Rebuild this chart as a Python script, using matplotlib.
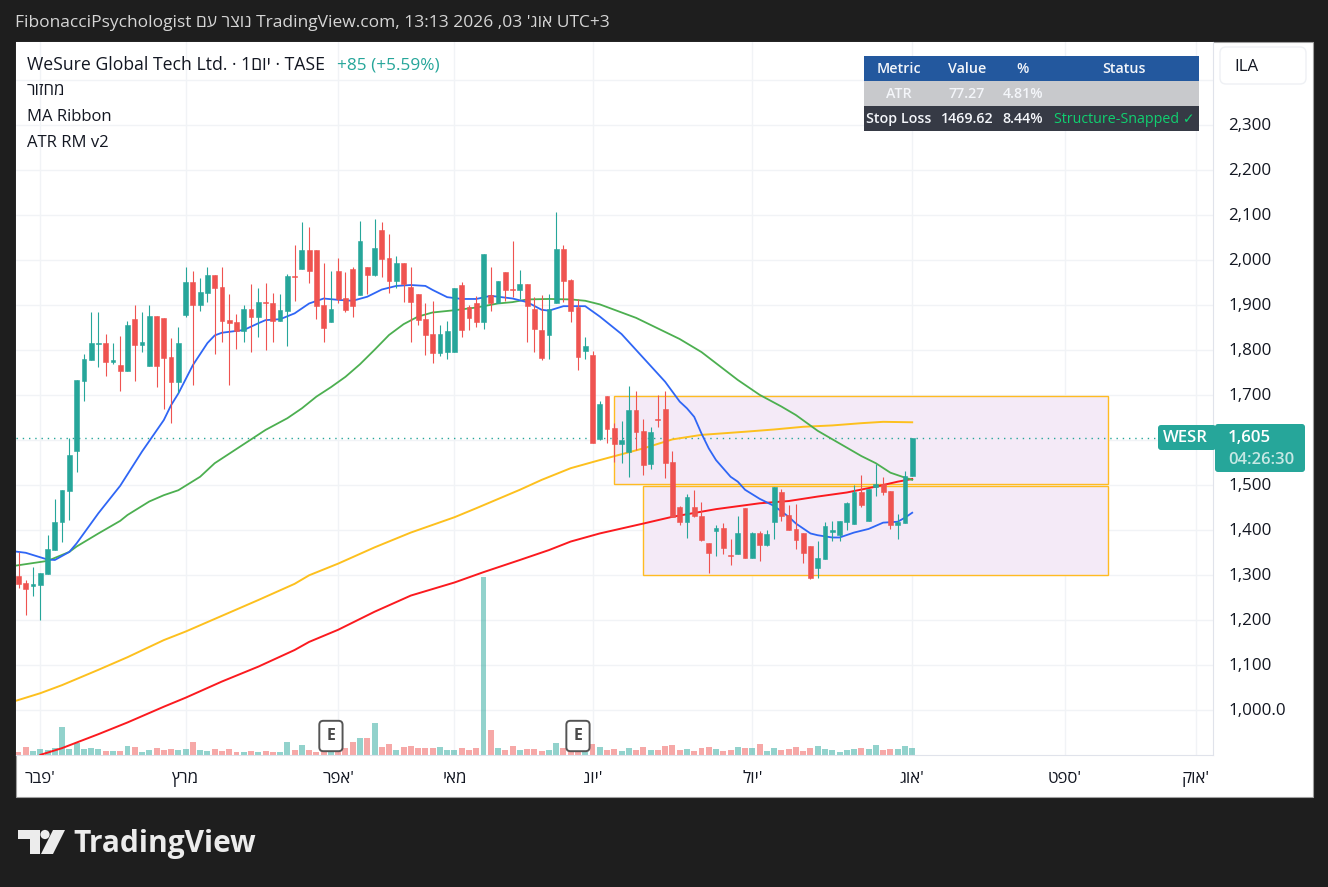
import matplotlib
matplotlib.use('Agg')
import matplotlib.pyplot as plt
from matplotlib.patches import Rectangle, FancyBboxPatch, Polygon, Circle
from matplotlib.transforms import IdentityTransform, ScaledTranslation

plt.rcParams['font.family'] = ['Open Sans', 'Liberation Sans', 'DejaVu Sans']

W, H = 1328, 887

# daily bars, index 0 = first bar of Feb
first_bar = -3
opens = [1298, 1283, 1277, 1278, 1303, 1356, 1418, 1487, 1576, 1732, 1778, 1815, 1816, 1774, 1767, 1754, 1870, 1812, 1765, 1876,
         1872, 1785, 1730, 1878, 1952, 1901, 1927, 1967, 1941, 1867, 1863, 1843, 1892, 1874, 1907, 1905, 1865, 1887, 1965, 1981,
         2023, 2023, 1901, 1863, 1976, 1916, 1981, 1923, 1985, 1967, 2067, 2005, 1954, 1994, 1941, 1925, 1870, 1836, 1794, 1796,
         1796, 1945, 1896, 1905, 1863, 1923, 1905, 1974, 1937, 1934, 1947, 1892, 1845, 1834, 1905, 2025, 1956, 1896, 1798, 1790,
         1603, 1698, 1627, 1592, 1574, 1667, 1621, 1547, 1648, 1670, 1552, 1452, 1418, 1452, 1432, 1372, 1398, 1405, 1346, 1347,
         1450, 1338, 1394, 1367, 1418, 1485, 1434, 1403, 1394, 1365, 1316, 1336, 1396, 1390, 1418, 1414, 1485, 1421, 1496, 1503,
         1487, 1412, 1416, 1520]
highs = [1351, 1289, 1319, 1305, 1389, 1469, 1489, 1606, 1734, 1792, 1885, 1885, 1836, 1816, 1832, 1865, 1901, 1885, 1901, 1876,
         1872, 1827, 1852, 1985, 1976, 1961, 1985, 1967, 1985, 1925, 1881, 1901, 1947, 1938, 1950, 1927, 1925, 1970, 2034, 2085,
         2074, 2023, 1994, 1976, 2005, 1974, 1985, 2087, 1985, 2092, 2085, 2058, 2010, 1994, 1985, 1925, 1905, 1910, 1856, 1865,
         1938, 1952, 1901, 1921, 2014, 1985, 1954, 1974, 2043, 1978, 1947, 1918, 1923, 1925, 2107, 2034, 1958, 1915, 1830, 1798,
         1687, 1698, 1638, 1643, 1721, 1710, 1647, 1630, 1701, 1710, 1576, 1454, 1481, 1490, 1463, 1372, 1412, 1416, 1381, 1432,
         1450, 1396, 1398, 1401, 1496, 1492, 1456, 1458, 1394, 1365, 1376, 1418, 1421, 1421, 1463, 1501, 1523, 1492, 1547, 1518,
         1487, 1436, 1532, 1605]
lows = [1272, 1212, 1254, 1200, 1303, 1356, 1374, 1423, 1529, 1687, 1778, 1763, 1743, 1770, 1710, 1754, 1732, 1796, 1765, 1718,
        1670, 1638, 1704, 1874, 1723, 1887, 1907, 1792, 1818, 1723, 1803, 1818, 1796, 1830, 1801, 1818, 1865, 1810, 1910, 1981,
        1950, 1870, 1818, 1863, 1905, 1885, 1874, 1923, 1925, 1965, 1963, 1927, 1938, 1907, 1818, 1856, 1790, 1772, 1787, 1781,
        1796, 1830, 1845, 1852, 1847, 1887, 1905, 1910, 1918, 1914, 1818, 1796, 1778, 1781, 1905, 1907, 1863, 1756, 1781, 1594,
        1601, 1594, 1552, 1550, 1518, 1578, 1523, 1536, 1630, 1516, 1430, 1412, 1383, 1430, 1376, 1305, 1343, 1347, 1323, 1347,
        1338, 1338, 1332, 1365, 1381, 1421, 1401, 1358, 1327, 1292, 1294, 1336, 1376, 1376, 1401, 1414, 1452, 1421, 1476, 1478,
        1403, 1381, 1416, 1520]
closes = [1281, 1270, 1281, 1305, 1358, 1418, 1489, 1567, 1734, 1781, 1816, 1817, 1774, 1778, 1754, 1856, 1812, 1818, 1876, 1765,
          1783, 1730, 1816, 1952, 1901, 1930, 1967, 1938, 1865, 1861, 1843, 1892, 1874, 1907, 1905, 1865, 1890, 1965, 1963, 2023,
          1976, 1898, 1850, 1892, 1914, 1890, 1898, 2043, 1967, 2027, 2003, 1954, 1994, 1947, 1907, 1867, 1834, 1794, 1836, 1843,
          1938, 1845, 1872, 1863, 2014, 1905, 1954, 1934, 1934, 1947, 1898, 1847, 1783, 1892, 2025, 1954, 1887, 1785, 1810, 1594,
          1681, 1625, 1592, 1601, 1667, 1618, 1545, 1618, 1646, 1550, 1430, 1418, 1474, 1432, 1378, 1350, 1405, 1361, 1343, 1394,
          1338, 1394, 1367, 1392, 1496, 1432, 1401, 1378, 1350, 1294, 1338, 1410, 1401, 1421, 1461, 1485, 1456, 1492, 1503, 1485,
          1412, 1418, 1521, 1605]
volumes = [10, 24, 12, 18, 15, 21, 84, 18, 35, 18, 21, 18, 12, 12, 12, 27, 24, 9, 15, 21,
           15, 18, 15, 18, 39, 15, 12, 18, 12, 18, 9, 9, 12, 9, 12, 9, 9, 39, 15, 30,
           15, 9, 12, 10, 12, 20, 39, 51, 51, 96, 24, 33, 15, 24, 27, 21, 21, 21, 24, 15,
           15, 21, 15, 21, 534, 75, 21, 15, 27, 15, 18, 18, 12, 15, 36, 21, 12, 10, 10, 33,
           24, 15, 18, 12, 21, 15, 24, 15, 15, 27, 30, 15, 18, 12, 21, 24, 18, 12, 15, 24,
           21, 21, 33, 12, 21, 15, 18, 24, 12, 21, 27, 18, 15, 9, 15, 18, 21, 18, 30, 15,
           18, 18, 27, 21]

blue_idx = [-4, -2, 1, 2, 4, 5, 8, 11, 14, 17, 18, 19, 21, 23, 24, 25, 27, 28, 30, 31, 33, 35, 36, 37, 39, 41, 43, 45, 47, 49, 51, 53, 54,
            56, 58, 60, 62, 65, 67, 69, 70, 72, 75, 77, 80, 83, 86, 88, 89, 90, 91, 92, 93, 95, 96, 97, 99, 101, 103, 104, 106, 107, 109,
            110, 112, 114, 116, 118, 119, 120]
blue_ma = [1354, 1350, 1335, 1334, 1352, 1371, 1438, 1499, 1575, 1645, 1678, 1704, 1767, 1816, 1833, 1839, 1843, 1845, 1860, 1867, 1869, 1882, 1893, 1904, 1915, 1912, 1910, 1919, 1935, 1943, 1945, 1943, 1934,
           1918, 1914, 1914, 1921, 1915, 1907, 1890, 1888, 1898, 1898, 1875, 1836, 1783, 1730, 1686, 1671, 1652, 1615, 1582, 1556, 1519, 1508, 1490, 1470, 1454, 1430, 1415, 1393, 1389, 1384,
           1384, 1395, 1403, 1417, 1419, 1428, 1439]
green_idx = [-4, 1, 4, 5, 8, 11, 12, 15, 17, 19, 22, 24, 31, 34, 36, 38, 40, 42, 44, 46, 48, 50, 52, 54, 57, 60, 63, 65, 67, 70, 73, 75, 77, 80,
             82, 88, 91, 96, 99, 102, 104, 107, 110, 113, 115, 117, 119, 120]
green_ma = [1320, 1332, 1352, 1364, 1393, 1421, 1434, 1464, 1478, 1489, 1519, 1549, 1623, 1649, 1671, 1697, 1718, 1741, 1769, 1801, 1834, 1858, 1875, 1884, 1889, 1895, 1904, 1907, 1913, 1914, 1913, 1910, 1902, 1884,
            1872, 1825, 1796, 1734, 1701, 1675, 1656, 1621, 1593, 1565, 1549, 1528, 1517, 1512]
yellow_idx = [-4, 0, 3, 8, 12, 17, 20, 25, 30, 35, 37, 41, 46, 51, 57, 60, 66, 69, 73, 77, 83, 87, 91, 97, 101, 105, 109, 113, 116, 120]
yellow_ma = [1018, 1038, 1056, 1090, 1118, 1156, 1175, 1210, 1245, 1281, 1300, 1326, 1362, 1395, 1429, 1449, 1490, 1512, 1538, 1556, 1582, 1602, 1612, 1619, 1624, 1630, 1633, 1638, 1641, 1640]
red_idx = [0, 3, 8, 12, 17, 20, 25, 30, 35, 37, 41, 46, 51, 57, 61, 66, 70, 73, 77, 83, 87, 93, 99, 103, 107, 111, 115, 118, 120]
red_ma = [901, 916, 947, 973, 1008, 1028, 1064, 1097, 1134, 1152, 1179, 1219, 1255, 1284, 1307, 1334, 1356, 1375, 1393, 1415, 1430, 1447, 1460, 1465, 1475, 1484, 1497, 1508, 1514]

# risk zones: left bar, right bar, low, high
zone_left = [79, 83]
zone_right = [147, 147]
zone_low = [1502, 1301]
zone_high = [1698, 1498]

last_price = 1605
price_ticks = list(range(1000, 2500, 100))
# 1,600 and 2,400 sit behind the price tag and the currency box
price_labels = ['1,000.0', '1,100', '1,200', '1,300', '1,400', '1,500', '', '1,700', '1,800', '1,900',
                '2,000', '2,100', '2,200', '2,300', '']
month_ticks = [0, 20, 41, 57, 76, 98, 120, 141, 159]
months = ["פבר'", 'מרץ', "אפר'", 'מאי', "יונ'", "יול'", "אוג'", "ספט'", "אוק'"]
earnings_bars = [40, 74]

table_rows = [['Metric', 'Value', '%', 'Status'],
              ['ATR', '77.27', '4.81%', ''],
              ['Stop Loss', '1469.62', '8.44%', 'Structure-Snapped ✓']]

UP = '#26a69a'
DOWN = '#ef5350'
TEXT = '#131722'


def rtl(s):
    # matplotlib has no bidi, hebrew has to go in visual order
    return s[::-1]


def month_label(s):
    # a trailing geresh stays on the right in the axis labels
    if s.endswith("'"):
        return rtl(s[:-1]) + "'"
    return rtl(s)


# the +0.01 stops 8.87*100 rounding down to 886 rows
fig = plt.figure(figsize=(W / 100, (H + 0.01) / 100), dpi=100, facecolor='#1e1e1e')


def box(x0, y0, x1, y1, color, edge='none', lw=0, z=5, rounding=0):
    if rounding:
        p = FancyBboxPatch((x0, H - y1), x1 - x0, y1 - y0, boxstyle='round,pad=0,rounding_size=%g' % rounding,
                           fc=color, ec=edge, lw=lw, zorder=z, transform=IdentityTransform())
    else:
        p = Rectangle((x0, H - y1), x1 - x0, y1 - y0, fc=color, ec=edge, lw=lw, zorder=z, transform=IdentityTransform())
    fig.add_artist(p)


def label(x, y, s, size=11, color=TEXT, ha='left', z=6, **kw):
    fig.text(x, H - y, s, fontsize=size, color=color, ha=ha, va='center', zorder=z,
             transform=IdentityTransform(), **kw)


# white chart card
box(15.5, 41.5, 1312.5, 796.5, 'white', edge='#a0a0a0', lw=0.8, z=-1)

ax = fig.add_axes([16 / W, 1 - 755 / H, 1197 / W, 713 / H])
ax.set_xlim(-3.345, 161.4)
ax.set_ylim(900.7, 2485)
ax.set_axisbelow(True)
ax.grid(True, color='#f1f3f6', lw=1)

for side in ['top', 'left']:
    ax.spines[side].set_visible(False)
for side in ['right', 'bottom']:
    ax.spines[side].set_color('#e0e3eb')

ax.yaxis.tick_right()
ax.set_yticks(price_ticks)
ax.set_yticklabels(price_labels, fontsize=12.2, color=TEXT)
ax.tick_params(axis='y', length=0, pad=11)
ax.set_xticks(month_ticks)
ax.set_xticklabels([month_label(m) for m in months], fontsize=12.2, color=TEXT)
ax.tick_params(axis='x', length=0, pad=11.5)

# tick labels sit a pixel above the grid lines in the original
nudge = ScaledTranslation(0, 1 / 100, fig.dpi_scale_trans)
for t in ax.get_yticklabels():
    t.set_transform(t.get_transform() + nudge)

xs = [first_bar + i for i in range(len(opens))]
colors = [UP if c >= o else DOWN for o, c in zip(opens, closes)]

for l, r, lo, hi in zip(zone_left, zone_right, zone_low, zone_high):
    ax.add_patch(Rectangle((l, lo), r - l, hi - lo, fc='#f4eaf7', ec='#ffbb22', lw=1.0, zorder=1))

# volume sits on the pane floor, 1 unit = a third of a pixel
ax.bar(xs, [v / (713 * 3) for v in volumes], width=0.82, color=colors, alpha=0.5, linewidth=0,
       transform=ax.get_xaxis_transform(), zorder=1.5)

ax.axhline(last_price, color=UP, lw=1, ls=(0, (1, 3.5)), zorder=2)

ax.plot(red_idx, red_ma, color='#fb1a1f', lw=1.4, zorder=3)
ax.plot(yellow_idx, yellow_ma, color='#fdc01e', lw=1.4, zorder=3)
ax.plot(green_idx, green_ma, color='#4caf50', lw=1.3, zorder=3)
ax.plot(blue_idx, blue_ma, color='#2f66f5', lw=1.3, zorder=3)

ax.vlines(xs, lows, highs, colors=colors, lw=0.8, zorder=4)
ax.bar(xs, [abs(c - o) for o, c in zip(opens, closes)], bottom=[min(o, c) for o, c in zip(opens, closes)],
       width=0.66, color=colors, edgecolor=colors, linewidth=0.4, zorder=4.5)

for b in earnings_bars:
    ax.text(b, 19 / 713, 'E', transform=ax.get_xaxis_transform(), ha='center', va='center', fontsize=11.5,
            color='#4a4a4a', fontweight='bold', zorder=6,
            bbox=dict(boxstyle='round,pad=0.45,rounding_size=0.25', fc='white', ec='#555555', lw=1.4))

# header strip
label(15, 23, 'FibonacciPsychologist ' + rtl('נוצר עם') + ' TradingView.com, 13:13 2026 ,03 ' + rtl("אוג'") + ' UTC+3',
      size=12.5, color='#d6d6d6')

# legend block
label(27, 65, 'WeSure Global Tech Ltd. · 1' + rtl('יום') + ' · TASE', size=12.7)
label(337, 65, '+85 (+5.59%)', size=12.4, color=UP)
label(27, 91, rtl('מחזור'), size=12.2)
label(27, 117, 'MA Ribbon', size=12)
label(27, 143, 'ATR RM v2', size=12)

# stop loss table
row_y = [56, 81, 106, 131]
row_bg = ['#23589e', '#c8c9cc', '#363a45']
row_fg = ['#f4f6fa', '#f4f6fa', '#f4f6fa']
col_x = [899, 967, 1023, 1124]
for r, row in enumerate(table_rows):
    box(864, row_y[r], 1199, row_y[r + 1], row_bg[r])
    for c, s in enumerate(row):
        col = '#10d070' if (r == 2 and c == 3) else row_fg[r]
        label(col_x[c], (row_y[r] + row_y[r + 1]) / 2 + 0.5, s, size=10.3, color=col, ha='center', z=7, fontweight='semibold' if col != '#10d070' else 'normal')

# currency box
box(1220, 47, 1306, 84, 'white', edge='#eef0f4', lw=1, rounding=6)
label(1234, 67, 'ILA', size=12.2)

# last price tags
box(1158, 425, 1216, 450, UP, rounding=3)
label(1163, 438, 'WESR', size=12, color='white', fontweight='semibold')
box(1215, 424, 1305, 472, UP, rounding=3)
label(1228, 437.5, '1,605', size=12.2, color='white', fontweight='semibold')
label(1228, 459.5, '04:26:30', size=12, color='#c6e8e4', fontweight='semibold')

# logo
logo = '#ececec'
fig.add_artist(Polygon([(18, H - 830), (40, H - 830), (40, H - 854), (30, H - 854), (30, H - 839), (18, H - 839)],
                       closed=True, fc=logo, ec='none', transform=IdentityTransform()))
fig.add_artist(Circle((45, H - 834.5), 4.6, fc=logo, ec='none', transform=IdentityTransform()))
fig.add_artist(Polygon([(53, H - 830), (65, H - 830), (53, H - 854), (41, H - 854)],
                       closed=True, fc=logo, ec='none', transform=IdentityTransform()))
label(73, 844, 'TradingView', size=21.5, color=logo, fontweight='bold')

fig.savefig('out.png', dpi=100, facecolor=fig.get_facecolor())
